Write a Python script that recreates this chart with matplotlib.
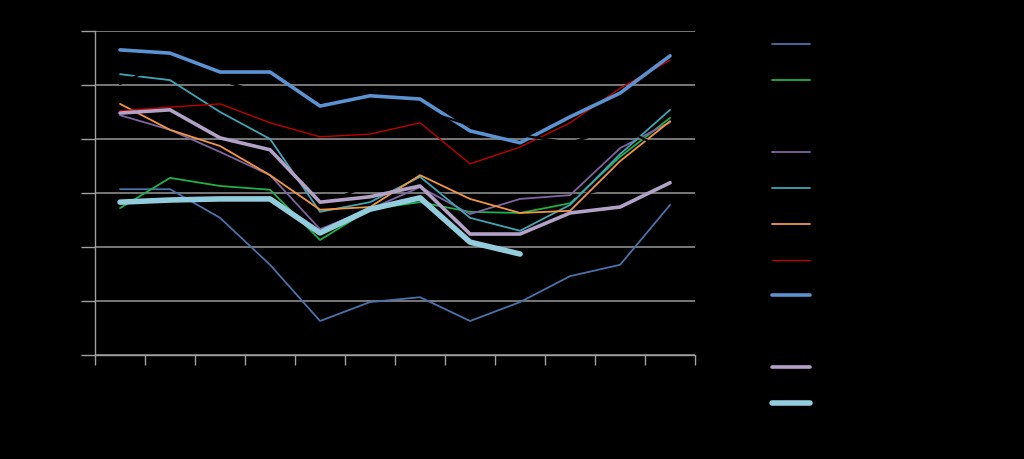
import matplotlib.pyplot as plt
import numpy as np

categories = ['1', '2', '3', '4', '5', '6', '7', '8', '9', '10', '11', '12']
labels = ['Series 1', 'Series 2', 'Series 3', 'Series 4', 'Series 5', 'Series 6',
          'Series 7', 'Series 8', 'Series 9', 'Series 10', 'Series 11']

s1 = [3.07, 3.07, 2.54, 1.67, 0.63, 0.98, 1.07, 0.63, 0.98, 1.46, 1.67, 2.78]
s2 = [2.72, 3.28, 3.13, 3.06, 2.13, 2.70, 2.83, 2.65, 2.63, 2.81, 3.67, 4.39]
s3 = [None, None, None, None, 2.78, 3.15, 3.06, 2.87, 2.81, 2.91, 3.15, 3.43]
s4 = [4.44, 4.17, 3.76, 3.33, 2.33, 2.70, 3.11, 2.61, 2.89, 2.96, 3.83, 4.31]
s5 = [5.20, 5.09, 4.50, 4.00, 2.65, 2.83, 3.30, 2.54, 2.30, 2.78, 3.72, 4.54]
s6 = [4.65, 4.17, 3.87, 3.33, 2.69, 2.74, 3.33, 2.89, 2.63, 2.67, 3.59, 4.33]
s7 = [4.52, 4.59, 4.65, 4.30, 4.04, 4.09, 4.30, 3.54, 3.85, 4.30, 4.94, 5.46]
s8 = [5.65, 5.59, 5.24, 5.24, 4.61, 4.80, 4.74, 4.15, 3.93, 4.41, 4.85, 5.54]
s9 = [5.02, 5.46, 5.09, 4.81, 4.54, 4.57, 4.54, 4.26, 4.07, 3.93, 4.22, 3.76]
s10 = [4.48, 4.54, 4.02, 3.80, 2.83, 2.93, 3.13, 2.24, 2.24, 2.63, 2.74, 3.19]
s11 = [2.83, 2.87, 2.89, 2.89, 2.26, 2.70, 2.91, 2.09, 1.87, None, None, None]

series = [s1, s2, s3, s4, s5, s6, s7, s8, s9, s10, s11]
colors = ['#4a72aa', '#1fb04a', '#000000', '#8064a2', '#3fa6b8', '#f39640',
          '#c00000', '#5a92d2', '#000000', '#b3a2c7', '#93cddd']
widths = [1.3, 1.3, 1.6, 1.3, 1.3, 1.3, 1.0, 2.6, 1.6, 2.6, 4.0]

fig = plt.figure(figsize=(10.24, 4.59), dpi=100, facecolor='black')
ax = fig.add_axes([0.0928, 0.2266, 0.586, 0.7059], facecolor='black')

x = np.arange(len(categories)) + 0.5
for vals, c, w, lab in zip(series, colors, widths, labels):
    y = np.array([np.nan if v is None else v for v in vals], dtype=float)
    ax.plot(x, y, color=c, lw=w, label=lab, solid_capstyle='round', zorder=3)

ax.set_xlim(0, 12)
ax.set_ylim(0, 6)
ax.set_yticks(range(7))
ax.set_xticks(range(13))
ax.set_xticklabels([''] * 13)
ax.set_xticks(x, minor=True)
ax.set_xticklabels(categories, minor=True, color='black')
ax.tick_params(axis='x', which='minor', length=0)
ax.tick_params(axis='x', which='major', length=7, color='#a0a0a0', width=1)
ax.tick_params(axis='y', length=10, color='#a0a0a0', width=1, labelcolor='black')
ax.yaxis.grid(True, color='#8c8c8c', lw=1.2, zorder=1)
ax.set_axisbelow(True)
for sp in ['top', 'right']:
    ax.spines[sp].set_visible(False)
for sp in ['left', 'bottom']:
    ax.spines[sp].set_color('#a0a0a0')
    ax.spines[sp].set_linewidth(1)

fig.legend(loc='upper left', bbox_to_anchor=(0.742, 0.945), frameon=False,
           fontsize=10, labelspacing=1.58, handlelength=2.7, labelcolor='black')

fig.savefig('out.png', dpi=100, facecolor='black')
